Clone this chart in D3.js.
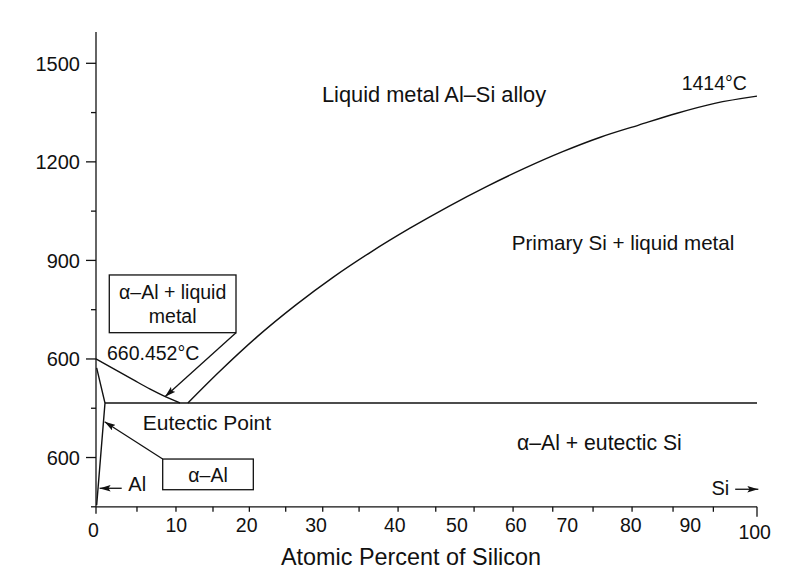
<html>
<head>
    <meta charset="utf-8">
    <title>Al-Si phase diagram</title>
    <script src="https://cdn.jsdelivr.net/npm/d3@7"></script>
    <style>
        body { margin: 0; background: #fff; }
        text { font-family: "Liberation Sans", Arial, sans-serif; fill: #111; }
    </style>
</head>
<body>
    <svg id="chart"></svg>
    <script>
        // values (x = atomic % Si, y = temperature as labelled on the axis)
        const xTickVals = [0, 6.2, 12.1, 17.7, 23.2, 28.7, 34.3, 39.8, 45.7, 51.4, 57.2, 63.1, 69.1, 75.2, 81.1, 87.3, 93.4, 100];
        const xLabels = ["0", "10", "20", "30", "40", "50", "60", "70", "80", "90", "100"];
        const xLabelAt = [-0.4, 12.15, 22.8, 33.3, 45.2, 54.6, 63.5, 71.3, 80.9, 89.9, 99.65];

        const yMajor = [1500, 1200, 900, 600, 300];
        const yLabels = ["1500", "1200", "900", "600", "600"];
        const yMinor = [1350, 1050, 750, 450, 150];

        const alLiquidus = [[0, 600], [3.1, 565], [5.6, 537], [8.2, 508], [10.4, 486], [12.7, 466]];
        const siLiquidus = [[13.9, 466], [18.65, 561], [24.4, 668], [30.2, 764], [35.96, 850], [41.7, 927],
            [47.5, 998], [53.3, 1064], [59.0, 1124], [64.8, 1180], [70.6, 1231], [76.3, 1275],
            [82.1, 1312], [87.9, 1348], [93.6, 1378], [100, 1400]];
        const solidus = [[0.1, 573], [1.36, 466], [0.1, 155]];
        const eutectic = [[1.36, 466], [100, 466]];

        const width = 792, height = 574;
        const svg = d3.select('#chart').attr('width', width).attr('height', height);

        const x = d3.scaleLinear().domain([0, 100]).range([96, 757]);
        const y = d3.scaleLinear().domain([150, 1500]).range([506.8, 63.3]);
        const yTop = 1595;

        // arrow head
        svg.append('defs').append('marker')
            .attr('id', 'head')
            .attr('markerUnits', 'userSpaceOnUse')
            .attr('viewBox', '0 0 10 6')
            .attr('refX', 10).attr('refY', 3)
            .attr('markerWidth', 11).attr('markerHeight', 7)
            .attr('orient', 'auto')
            .append('path')
            .attr('d', 'M0,0 L10,3 L0,6 L2,3 Z')
            .attr('fill', '#111');

        // axes
        const ax = svg.append('g').attr('stroke', '#111').attr('stroke-width', 1.3);
        ax.append('line').attr('x1', x(0)).attr('x2', x(0)).attr('y1', y(yTop)).attr('y2', y(150));
        ax.append('line').attr('x1', x(0)).attr('x2', x(100)).attr('y1', y(150)).attr('y2', y(150));
        ax.selectAll('.ymaj').data(yMajor).join('line')
            .attr('x1', x(0) - 10).attr('x2', x(0)).attr('y1', d => y(d)).attr('y2', d => y(d));
        ax.selectAll('.ymin').data(yMinor).join('line')
            .attr('x1', x(0) - 5).attr('x2', x(0)).attr('y1', d => y(d)).attr('y2', d => y(d));
        ax.selectAll('.xt').data(xTickVals).join('line')
            .attr('x1', d => x(d)).attr('x2', d => x(d))
            .attr('y1', y(150))
            .attr('y2', (d, i) => y(150) + (i === xTickVals.length - 1 ? 10 : (i === 0 ? 7 : 5)));

        svg.selectAll('.ylab').data(yMajor).join('text')
            .attr('x', x(0) - 16).attr('y', d => y(d)).attr('dy', '0.36em')
            .attr('text-anchor', 'end').attr('font-size', 20)
            .text((d, i) => yLabels[i]);

        svg.selectAll('.xlab').data(xLabels).join('text')
            .attr('x', (d, i) => x(xLabelAt[i]))
            .attr('y', (d, i) => i === 0 ? 537 : (i === xLabels.length - 1 ? 539 : 532))
            .attr('text-anchor', 'middle').attr('font-size', 19.5)
            .text(d => d);

        svg.append('text').attr('x', 411).attr('y', 565)
            .attr('text-anchor', 'middle').attr('font-size', 23.4)
            .text('Atomic Percent of Silicon');

        // phase lines
        const line = d3.line().x(d => x(d[0])).y(d => y(d[1]));
        const curve = d3.line().x(d => x(d[0])).y(d => y(d[1])).curve(d3.curveMonotoneX);
        const lines = svg.append('g').attr('fill', 'none').attr('stroke', '#111').attr('stroke-width', 1.4);
        lines.append('path').attr('d', curve(alLiquidus));
        lines.append('path').attr('d', curve(siLiquidus));
        lines.append('path').attr('d', line(solidus));
        lines.append('path').attr('d', line(eutectic));

        // boxes
        const boxes = [[2.01, 855.7, 21.18, 680], [10.09, 295.4, 23.8, 202]];
        svg.selectAll('.box').data(boxes).join('rect')
            .attr('x', d => x(d[0])).attr('y', d => y(d[1]))
            .attr('width', d => x(d[2]) - x(d[0])).attr('height', d => y(d[3]) - y(d[1]))
            .attr('fill', 'none').attr('stroke', '#111').attr('stroke-width', 1.3);

        // arrows
        const arrows = [
            [[21.18, 680], [10.44, 485.2]],
            [[10.09, 295.4], [1.3, 409]],
            [[3.89, 206.4], [0.55, 206.4]],
            [[96.7, 203.4], [100.2, 203.4]]
        ];
        svg.selectAll('.arrow').data(arrows).join('path')
            .attr('d', d => line(d))
            .attr('fill', 'none').attr('stroke', '#111').attr('stroke-width', 1.3)
            .attr('marker-end', 'url(#head)');

        // labels
        const notes = [
            { t: 'Liquid metal Al–Si alloy', x: 34.19, y: 1382.3, a: 'start', s: 21.8 },
            { t: '1414°C', x: 88.6, y: 1418.8, a: 'start', s: 19.5 },
            { t: 'Primary Si + liquid metal', x: 62.9, y: 931.8, a: 'start', s: 20.6 },
            { t: 'α–Al + eutectic Si', x: 63.7, y: 323, a: 'start', s: 21.2 },
            { t: '660.452°C', x: 1.66, y: 597, a: 'start', s: 19.5 },
            { t: 'α–Al + liquid', x: 11.6, y: 781.7, a: 'middle', s: 19.5 },
            { t: 'metal', x: 11.6, y: 708.7, a: 'middle', s: 19.5 },
            { t: 'Eutectic Point', x: 7.07, y: 383.9, a: 'start', s: 21 },
            { t: 'α–Al', x: 16.95, y: 226.5, a: 'middle', s: 19.5 },
            { t: 'Al', x: 4.89, y: 198.2, a: 'start', s: 20 },
            { t: 'Si', x: 93.1, y: 186, a: 'start', s: 20 }
        ];
        svg.selectAll('.note').data(notes).join('text')
            .attr('x', d => x(d.x)).attr('y', d => y(d.y))
            .attr('text-anchor', d => d.a).attr('font-size', d => d.s)
            .text(d => d.t);
    </script>
</body>
</html>
